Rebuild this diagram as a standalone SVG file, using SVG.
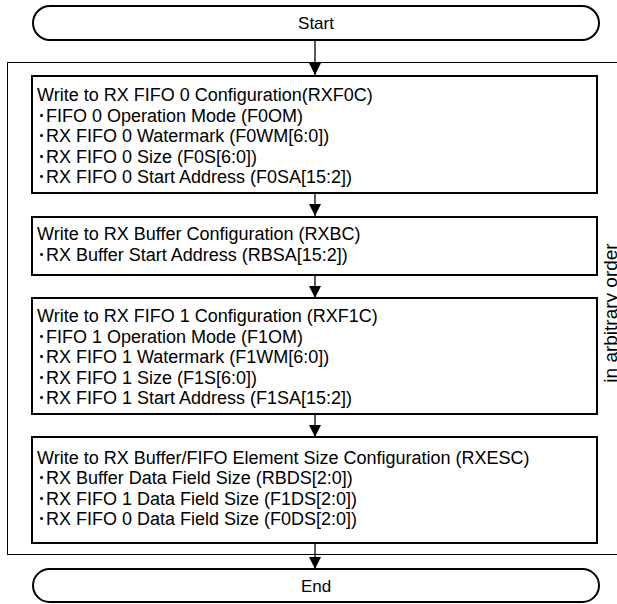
<svg xmlns="http://www.w3.org/2000/svg" width="617" height="604" viewBox="0 0 617 604">
<style>
.term{fill:#fff;stroke:#000;stroke-width:2}
.box{fill:#fff;stroke:#000;stroke-width:2}
.outer{fill:none;stroke:#000;stroke-width:1}
.t{font-family:"Liberation Sans","Noto Sans CJK JP",Arial,sans-serif;font-size:18px;fill:#000}
.c{text-anchor:middle}
.s{font-size:17px}
.r{font-size:19px}
.conn line{stroke:#000;stroke-width:1.3}
</style>
<defs>
<marker id="ah" markerWidth="12" markerHeight="12" viewBox="0 0 12 12" refX="12" refY="6" orient="auto" markerUnits="userSpaceOnUse">
<path d="M0,0 L12,6 L0,12 Z" fill="#000"/>
</marker>
</defs>
<rect class="outer" x="7.5" y="62.5" width="620" height="492"/>
<text class="t c r" transform="translate(617,313) rotate(-90)">in arbitrary order</text>
<g class="conn">
<line x1="315" y1="40" x2="315" y2="75" marker-end="url(#ah)"/>
<line x1="315" y1="193" x2="315" y2="216" marker-end="url(#ah)"/>
<line x1="315" y1="275" x2="315" y2="298" marker-end="url(#ah)"/>
<line x1="315" y1="414" x2="315" y2="437" marker-end="url(#ah)"/>
<line x1="315" y1="543" x2="315" y2="569" marker-end="url(#ah)"/>
</g>
<g id="start">
<rect class="term" x="33" y="6" width="566" height="34" rx="17"/>
<text class="t c s" x="316" y="29">Start</text>
</g>
<g id="rxf0c">
<rect class="box" x="32" y="76" width="565" height="117"/>
<text class="t" x="37" y="101">Write to RX FIFO 0 Configuration(RXF0C)</text>
<text class="t" x="37" y="121.5">･FIFO 0 Operation Mode (F0OM)</text>
<text class="t" x="37" y="142">･RX FIFO 0 Watermark (F0WM[6:0])</text>
<text class="t" x="37" y="162.5">･RX FIFO 0 Size (F0S[6:0])</text>
<text class="t" x="37" y="183">･RX FIFO 0 Start Address (F0SA[15:2])</text>
</g>
<g id="rxbc">
<rect class="box" x="32" y="217" width="565" height="58"/>
<text class="t" x="37" y="240">Write to RX Buffer Configuration (RXBC)</text>
<text class="t" x="37" y="260.5">･RX Buffer Start Address (RBSA[15:2])</text>
</g>
<g id="rxf1c">
<rect class="box" x="32" y="298" width="565" height="116"/>
<text class="t" x="37" y="322">Write to RX FIFO 1 Configuration (RXF1C)</text>
<text class="t" x="37" y="342.5">･FIFO 1 Operation Mode (F1OM)</text>
<text class="t" x="37" y="363">･RX FIFO 1 Watermark (F1WM[6:0])</text>
<text class="t" x="37" y="383.5">･RX FIFO 1 Size (F1S[6:0])</text>
<text class="t" x="37" y="404">･RX FIFO 1 Start Address (F1SA[15:2])</text>
</g>
<g id="rxesc">
<rect class="box" x="32" y="437" width="565" height="106"/>
<text class="t" x="37" y="463.5">Write to RX Buffer/FIFO Element Size Configuration (RXESC)</text>
<text class="t" x="37" y="484">･RX Buffer Data Field Size (RBDS[2:0])</text>
<text class="t" x="37" y="504.5">･RX FIFO 1 Data Field Size (F1DS[2:0])</text>
<text class="t" x="37" y="525">･RX FIFO 0 Data Field Size (F0DS[2:0])</text>
</g>
<g id="end">
<rect class="term" x="33" y="569" width="566" height="33" rx="16.5"/>
<text class="t c s" x="316" y="591.5">End</text>
</g>
</svg>
